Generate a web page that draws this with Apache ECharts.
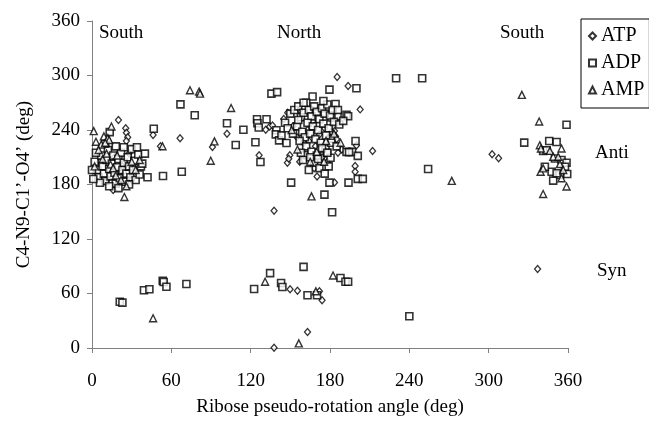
<!DOCTYPE html>
<html>
<head>
<meta charset="utf-8">
<script src="https://cdn.jsdelivr.net/npm/echarts@6/dist/echarts.min.js"></script>
<style>html,body{margin:0;padding:0;background:#fff;}#c{width:649px;height:422px;}</style>
</head>
<body>
<div id="c"></div>
<script>
var seriesNames = ['ATP', 'ADP', 'AMP'];
var xTicks = [0, 60, 120, 180, 240, 300, 360];
var yTicks = [0, 60, 120, 180, 240, 300, 360];
var regionLabels = ['South', 'North', 'South'];
var confLabels = ['Anti', 'Syn'];

// ATP (diamonds): [pseudo-rotation angle, C4-N9-C1'-O4']
var atpData = [
  [20,251],[25.5,242],[26,237],[27,232],[26,228],[16,174],[12,186],[21,194],[30,185],[6,205],[17,210],[23,200],[28,214],
  [46.2,234.4],[51.8,222.1],[66.6,230.8],[102.1,235.9],[91.1,221.3],[126.4,212.3],
  [131.4,240.3],[134.4,243.9],[136.5,245],[149.6,212.3],[147.8,203.9],[148.8,208.3],[157.1,205],[137.7,151],
  [185.4,298.3],[193.7,288.5],[202.8,262.7],[183.4,238.8],[184.2,233],[200,222.9],[188.9,218.5],[212.2,217],
  [199,200.3],[199,194.1],[183.4,182.1],[170.2,188.7],
  [145,252],[148,259],[152,244],[157,262],[163,240],[167,250],[172,235],[176,242],[181,238],[185,230],
  [169,222],[164,228],[160,226],[174,210],[178,205],[168,198],[155,232],[186,215],
  [302.6,213.4],[307.5,209],
  [149.8,64.6],[155.4,63.1],[172,62.4],[174,52.6],[163,17.7],[137.7,0.3],[337,87]
];

// ADP (squares)
var adpData = [
  [2,205],[4,196],[5,188],[7,212],[8,200],[9,192],[10,184],[11,207],[12,218],[13,197],[14,189],[15,203],[16,212],
  [17,193],[18,181],[19,199],[20,208],[21,187],[22,215],[23,196],[24,204],[25,183],[26,192],[27,210],[28,200],
  [29,188],[30,219],[31,196],[32,206],[33,185],[35,213],[36,191],[37,200],[40,214],[42,188],[6,182],[3,215],
  [13,178],[20,176],[24,221],[18,222],[0,196],[1,186],[10,225],[28,180],[34,221],[38,203],[13.4,237.7],
  [46.7,241.4],[53.7,189.4],[66.9,268.2],[67.9,194.1],[77.7,256.2],[102.1,247.5],[108.7,223.5],[114.5,240.3],
  [123.6,226.5],[127.4,204.7],[135.7,280.1],[140,281.7],[124.8,251.8],[132,251.8],[125.1,247.5],[150.6,182.1],
  [126.1,242.8],[139.5,239.8],[139,235.2],[141.5,228.6],[147.1,225.7],[143.3,234.1],[160.9,212.3],[159.6,206.9],
  [200,286],[179.6,284.5],[166.8,276.9],[230,296.9],[249.7,296.9],[184.2,268.6],[192.5,256.6],[193.7,255.1],
  [185.7,255.1],[181.1,253.7],[180.6,230.5],[199.3,227.9],[192.5,215.9],[196.7,215.9],[194.4,215.6],[201,211.5],
  [176.6,219.6],[177.8,214.8],[180.4,209.4],[201,186.2],[204.8,186.2],[179.6,182.1],[194,182.1],[175.8,168.8],
  [181.6,149.5],[254.2,197.1],
  [150,258],[153,262],[156,266],[158,254],[160,259],[162,270],[164,262],[166,255],[168,266],[170,260],[172,252],
  [174,264],[176,258],[178,268],[180,256],[182,262],[163,248],[167,244],[171,240],[175,247],[179,242],[183,249],
  [187,246],[155,244],[159,238],[161,232],[165,236],[169,230],[173,226],[177,234],[181,226],[185,222],[152,236],
  [157,228],[162,222],[166,216],[170,212],[174,220],[178,215],[168,204],[172,198],[164,196],[176,192],[156,251],
  [186,262],[190,250],[146,248],[148,242],[160,270],[175,272],[158,215],[171,208],[165,210],[179,200],
  [358.9,245.7],[326.9,226.1],[345.8,227.9],[351.4,226.8],[341.2,217],[343.8,217.7],[350.1,208.7],[355.1,206.9],
  [358.9,203.9],[357.7,199.6],[359.4,191.6],[353.9,190.5],[348.8,184.3],[347.6,194.1],[342.5,199.6],[351.4,192.4],
  [21,51],[23,50],[39.3,63.5],[43.4,64.6],[53.5,74],[54.2,72.6],[56.3,67.5],[71.4,70.4],[122.6,65],[134.7,82.4],
  [143,71.5],[144,67.2],[160,89.3],[163,58],[170.2,58],[187.9,77],[191.7,73],[193.7,73],[240,35]
];

// AMP (triangles)
var ampData = [
  [1.3,238.8],[14.7,243.9],[3,227],[7,224],[9,233],[12,231],[13,229],[10,226],[5,218],[8,208],[14,202],[18,190],
  [22,185],[26,178],[30,205],[33,196],[36,207],[24.5,166.2],[11,214],[16,198],[2,200],[19,212],
  [53.3,222.1],[74.1,283.8],[81,282.3],[81.7,280.1],[105.2,264.2],[92.6,227.5],[89.8,206.1],[166,166.9],
  [155.4,218.5],[175.5,205],[272.1,184],
  [151,240],[170,216],[177,228],[165,205],[183,236],[188,226],
  [325.1,278.7],[338.2,249.3],[338.7,223.2],[355.1,219.6],[339.5,219.6],[346.3,217],[348.8,210.5],[352.6,210.5],
  [353.9,202.5],[356.4,196],[355.1,186.9],[339.3,194.1],[341.2,197.8],[358.9,177.8],[341.2,169.5],
  [46.2,32.7],[130.9,72.9],[169.3,62.4],[182.3,79.8],[156.4,5.1]
];

var FONT = 'Liberation Serif, Times New Roman, serif';
var chart = echarts.init(document.getElementById('c'), null, {renderer: 'canvas'});
function axisBase(name, ticks) {
  return {
    type: 'value', min: ticks[0], max: ticks[ticks.length - 1], interval: ticks[1] - ticks[0],
    name: name, nameLocation: 'middle',
    nameTextStyle: {fontFamily: FONT, fontSize: 19, color: '#000'},
    axisLine: {show: true, lineStyle: {color: '#808080', width: 1}},
    axisTick: {show: true, inside: false, length: 5, lineStyle: {color: '#808080'}},
    axisLabel: {fontFamily: FONT, fontSize: 19, color: '#000'},
    splitLine: {show: false}
  };
}
var xAxis = axisBase('Ribose pseudo-rotation angle (deg)', xTicks);
xAxis.nameGap = 50; xAxis.axisLabel.margin = 24;
var yAxis = axisBase('C4-N9-C1\u2019-O4\u2019 (deg)', yTicks);
yAxis.nameGap = 58; yAxis.nameRotate = 90; yAxis.axisLabel.margin = 12;

function mk(name, data, symbol, size, bw) {
  return {
    name: name, type: 'scatter', data: data, symbol: symbol, symbolSize: size,
    itemStyle: {color: '#fff', borderColor: '#000', borderWidth: bw},
    emphasis: {disabled: true}, animation: false
  };
}

chart.setOption({
  backgroundColor: '#fff',
  animation: false,
  grid: {left: 92, right: 81, top: 21, bottom: 72},
  xAxis: xAxis,
  yAxis: yAxis,
  legend: {
    orient: 'vertical', left: 581, top: 19,
    data: seriesNames,
    borderColor: '#000', borderWidth: 1, padding: [7, 5, 8, 7],
    itemWidth: 7, itemHeight: 7, itemGap: 7,
    textStyle: {fontFamily: FONT, fontSize: 20, color: '#000'}
  },
  graphic: [
    {type: 'text', left: 99, top: 24, style: {text: regionLabels[0], font: '19px ' + FONT, fill: '#000'}},
    {type: 'text', left: 277, top: 24, style: {text: regionLabels[1], font: '19px ' + FONT, fill: '#000'}},
    {type: 'text', left: 500, top: 24, style: {text: regionLabels[2], font: '19px ' + FONT, fill: '#000'}},
    {type: 'text', left: 595, top: 144, style: {text: confLabels[0], font: '19px ' + FONT, fill: '#000'}},
    {type: 'text', left: 597, top: 262, style: {text: confLabels[1], font: '19px ' + FONT, fill: '#000'}}
  ],
  series: [
    mk(seriesNames[0], atpData, 'diamond', [6, 7], 1.3),
    mk(seriesNames[1], adpData, 'rect', 7, 1.6),
    mk(seriesNames[2], ampData, 'triangle', 7, 1.4)
  ]
});
</script>
</body>
</html>
